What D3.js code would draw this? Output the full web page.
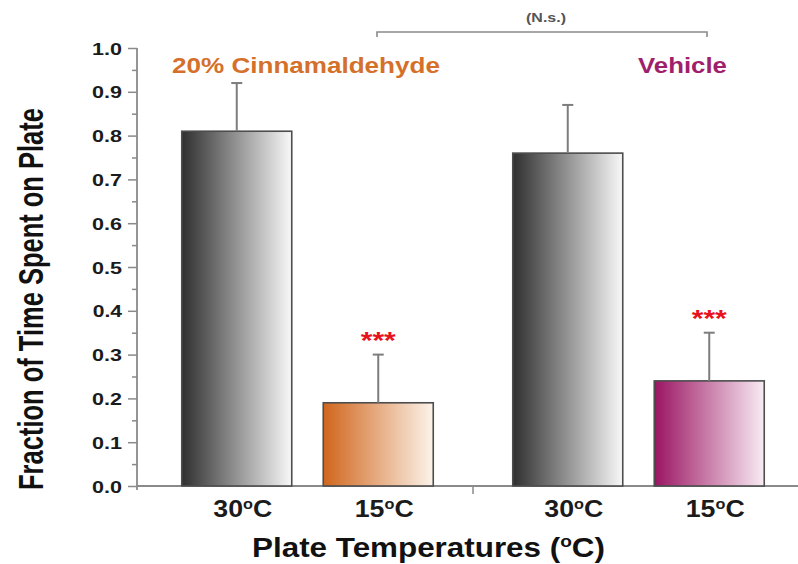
<!DOCTYPE html>
<html>
<head>
<meta charset="utf-8">
<script src="https://cdn.jsdelivr.net/npm/d3@7"></script>
<style>
  html, body { margin: 0; padding: 0; background: #fff; }
  svg { display: block; }
  text { font-family: "Liberation Sans", Arial, Helvetica, sans-serif; font-weight: bold; }
</style>
</head>
<body>
<svg id="chart" width="798" height="564"></svg>
<script>
// ---- data ----
const groups = ["20% Cinnamaldehyde", "Vehicle"];
const temps = ["30", "15"];
const tempLabels = ["30", "15"];          // rendered as 30°C / 15°C with superscript o
const means = [0.81, 0.19, 0.76, 0.24];    // order: Cinn 30, Cinn 15, Veh 30, Veh 15
const errs = [0.11, 0.11, 0.11, 0.11];
const signif = ["", "***", "", "***"];
const yTicks = [0.0, 0.1, 0.2, 0.3, 0.4, 0.5, 0.6, 0.7, 0.8, 0.9, 1.0];
const yMinorTicks = [0.05, 0.15, 0.25, 0.35, 0.45, 0.55, 0.65, 0.75, 0.85, 0.95];
const bracketLabel = "(N.s.)";
const yTitle = "Fraction of Time Spent on Plate";
const xTitle = ["Plate Temperatures (", "o", "C)"];

// ---- styles ----
const fills = {
  gray: ["#2f2f2f", "#f8f8f8"],
  orange: ["#d0661c", "#fcf3ea"],
  magenta: ["#9a1462", "#f9ebf4"]
};
const barFillKey = ["gray", "orange", "gray", "magenta"];
const groupColors = ["#d4702a", "#a01f6c"];

const svg = d3.select("#chart");
const defs = svg.append("defs");
Object.entries(fills).forEach(([k, c]) => {
  const g = defs.append("linearGradient").attr("id", "grad-" + k)
    .attr("x1", "0").attr("x2", "1").attr("y1", "0").attr("y2", "0");
  g.append("stop").attr("offset", "0%").attr("stop-color", c[0]);
  g.append("stop").attr("offset", "100%").attr("stop-color", c[1]);
});

// ---- scales ----
const y = d3.scaleLinear().domain([0, 1]).range([486, 48]);
const xOuter = d3.scaleBand().domain(groups).range([142, 804]).padding(0);
const xInner = d3.scaleBand().domain(temps).range([0, xOuter.bandwidth()])
  .paddingInner(0.2226).paddingOuter(0.281);

const bars = [];
groups.forEach((g, gi) => temps.forEach((t, ti) => {
  const i = gi * temps.length + ti;
  bars.push({ g, t, gi, ti, mean: means[i], err: errs[i], sig: signif[i], fill: barFillKey[i], label: tempLabels[ti] });
}));
const bx = d => xOuter(d.g) + xInner(d.t);
const bc = d => bx(d) + xInner.bandwidth() / 2;

const axisColor = "#8a8a8a";

// ---- helper: horizontally fit text ----
function fitH(sel, targetW) {
  const w = sel.node().getBBox().width;
  return targetW / w;
}

// ---- y axis ----
const yAxisG = svg.append("g").attr("transform", "translate(137,0)");
yAxisG.call(d3.axisLeft(y).tickValues(yMinorTicks).tickSize(5).tickFormat(""))
  .call(g => g.select(".domain").remove())
  .call(g => g.selectAll("line").attr("stroke", axisColor).attr("stroke-width", 1.5));
const yMajor = svg.append("g").attr("transform", "translate(137,0)")
  .call(d3.axisLeft(y).tickValues(yTicks).tickSize(9).tickFormat(d3.format(".1f")));
yMajor.select(".domain").remove();
yMajor.selectAll("line").attr("stroke", axisColor).attr("stroke-width", 1.5);
yMajor.selectAll("text")
  .attr("x", 0).attr("dy", "0.36em")
  .attr("font-size", 17).attr("fill", "#1b1b1b")
  .attr("text-anchor", "end");
yMajor.selectAll("text").each(function () {
  const sx = 30 / this.getBBox().width;
  d3.select(this).attr("transform", `translate(-15,0) scale(${sx},1)`);
});
// y axis line
svg.append("line").attr("x1", 137).attr("x2", 137).attr("y1", y(1)).attr("y2", y(0) + 4)
  .attr("stroke", axisColor).attr("stroke-width", 1.8);

// ---- x axis ----
svg.append("line").attr("x1", 137).attr("x2", 798).attr("y1", y(0)).attr("y2", y(0))
  .attr("stroke", axisColor).attr("stroke-width", 1.8);
// tick between groups
svg.append("line").attr("x1", xOuter(groups[1])).attr("x2", xOuter(groups[1]))
  .attr("y1", y(0)).attr("y2", y(0) + 8).attr("stroke", axisColor).attr("stroke-width", 1.5);

// ---- bars ----
svg.append("g").selectAll("rect").data(bars).join("rect")
  .attr("x", bx).attr("width", xInner.bandwidth())
  .attr("y", d => y(d.mean)).attr("height", d => y(0) - y(d.mean))
  .attr("fill", d => `url(#grad-${d.fill})`)
  .attr("stroke", "#4d4d4d").attr("stroke-width", 1.6);

// ---- error bars ----
const eg = svg.append("g").attr("stroke", "#7d7d7d").attr("stroke-width", 2);
eg.selectAll("line.v").data(bars).join("line").attr("class", "v")
  .attr("x1", bc).attr("x2", bc).attr("y1", d => y(d.mean)).attr("y2", d => y(d.mean + d.err));
eg.selectAll("line.c").data(bars).join("line").attr("class", "c")
  .attr("x1", d => bc(d) - 5.5).attr("x2", d => bc(d) + 5.5)
  .attr("y1", d => y(d.mean + d.err)).attr("y2", d => y(d.mean + d.err));

// ---- significance stars ----
svg.append("g").selectAll("text").data(bars.filter(d => d.sig)).join("text")
  .attr("text-anchor", "middle").attr("font-size", 24).attr("fill", "#e8121c")
  .attr("transform", d => `translate(${bc(d)},${y(d.mean + d.err) - 19 + 0.57 * 24}) scale(1.25,1)`)
  .text(d => d.sig);

// ---- x tick labels ----
const xl = svg.append("g").selectAll("g").data(bars).join("g");
xl.each(function (d) {
  const g = d3.select(this);
  const t = g.append("text").attr("text-anchor", "middle").attr("font-size", 23).attr("fill", "#1b1b1b");
  t.append("tspan").text(d.label);
  t.append("tspan").attr("font-size", 14).attr("dy", -8).text("o");
  t.append("tspan").attr("dy", 8).text("C");
});
let sxTick = 1;
{
  const n = xl.select("text").node();
  sxTick = 59 / n.getBBox().width;
}
xl.attr("transform", d => `translate(${bc(d) + 6},516.5) scale(${sxTick},1)`);

// ---- x title ----
{
  const g = svg.append("g");
  const t = g.append("text").attr("text-anchor", "middle").attr("font-size", 28).attr("fill", "#111");
  t.append("tspan").text(xTitle[0]);
  t.append("tspan").attr("font-size", 17).attr("dy", -10).text(xTitle[1]);
  t.append("tspan").attr("dy", 10).text(xTitle[2]);
  const sx = fitH(t, 353);
  g.attr("transform", `translate(428.5,557) scale(${sx},1)`);
}

// ---- y title ----
{
  const fs = 26;
  const t = svg.append("text").attr("text-anchor", "middle").attr("font-size", fs).attr("fill", "#111").text(yTitle);
  const L = t.node().getBBox().width;
  const sy = 382 / L;
  const sx = 25 / (0.716 * fs);
  t.attr("transform", `translate(43,299) scale(${sx},${sy}) rotate(-90)`);
}

// ---- group labels ----
const glPos = [{ cx: 306, w: 268 }, { cx: 682.5, w: 89 }];
groups.forEach((g, i) => {
  const t = svg.append("text").attr("text-anchor", "middle").attr("font-size", 22.5)
    .attr("fill", groupColors[i]).text(g);
  const sx = fitH(t, glPos[i].w);
  t.attr("transform", `translate(${glPos[i].cx},73) scale(${sx},1)`);
});

// ---- significance bracket ----
const bL = bc(bars[0]) + 140, bR = bc(bars[3]) - 1.5;
svg.append("path")
  .attr("d", `M${xOuter(groups[0]) + 235},37 V32 H${xOuter(groups[1]) + 234} V37`)
  .attr("fill", "none").attr("stroke", "#8a8a8a").attr("stroke-width", 1.6);
{
  const t = svg.append("text").attr("text-anchor", "middle").attr("font-size", 12).attr("fill", "#555").text(bracketLabel);
  const sx = fitH(t, 40);
  t.attr("transform", `translate(546,22) scale(${sx},1)`);
}
</script>
</body>
</html>
